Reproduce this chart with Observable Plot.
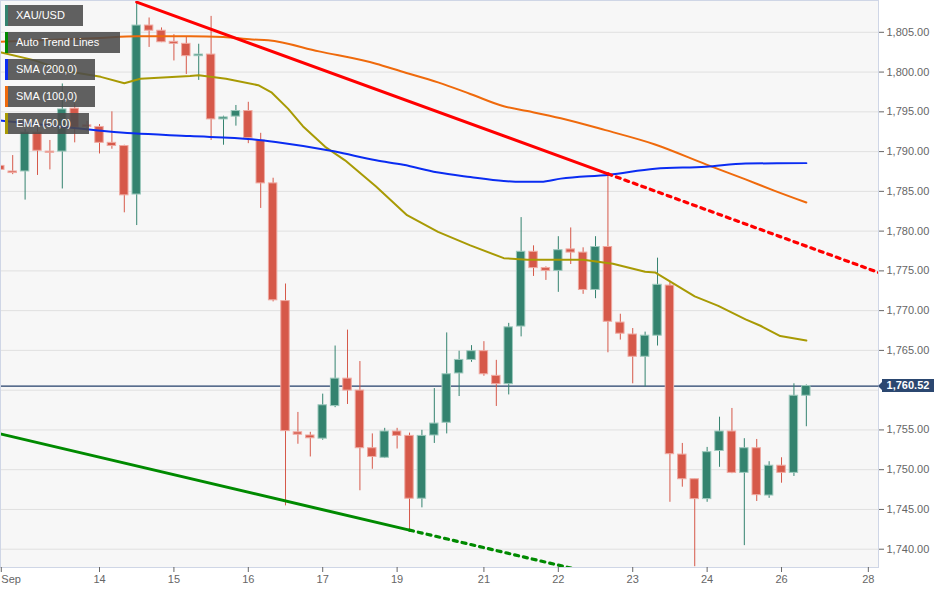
<!DOCTYPE html>
<html><head><meta charset="utf-8">
<script src="https://cdn.jsdelivr.net/npm/d3@7"></script>
<script src="https://cdn.jsdelivr.net/npm/@observablehq/plot@0.6"></script>
<style>
body{margin:0;background:#fff;font-family:"Liberation Sans",Arial,sans-serif;}
#wrap{position:relative;width:949px;height:593px;overflow:hidden;}
.leg{position:absolute;left:5px;height:21px;background:rgba(75,75,75,0.88);color:#fff;font-size:11px;line-height:21px;padding-left:8px;box-sizing:border-box;border-left:3px solid;white-space:nowrap;}
.last{position:absolute;left:882px;width:52px;height:13px;background:#2b4770;color:#fff;font-weight:bold;font-size:11px;line-height:13px;text-align:center;}
.last:before{content:"";position:absolute;left:-4px;top:2.5px;border-top:4px solid transparent;border-bottom:4px solid transparent;border-right:4px solid #2b4770;}
</style></head><body>
<div id="wrap"></div>
<script>
// ---- candle data (4H candles, index 0 = Sep 13 00:00) ----
const candleIdx = d3.range(-2, 64);
const open  = [1788.2,1787.5,1787.5,1792.4,1790.0,1790.0,1795.4,1793.3,1793.1,1791.1,1790.7,1784.6,1805.85,1805.2,1803.8,1803.55,1802.0,1802.2,1794.05,1794.4,1795.1,1791.4,1786.0,1771.2,1754.7,1754.3,1753.9,1758.0,1761.45,1759.95,1752.7,1751.5,1754.8,1754.25,1746.35,1754.3,1755.9,1762.1,1763.8,1764.9,1761.8,1760.75,1768.0,1777.4,1775.35,1775.0,1777.7,1777.3,1772.6,1778.0,1768.5,1767.0,1764.2,1766.85,1773.15,1751.9,1748.8,1746.3,1752.35,1754.8,1749.6,1752.7,1746.75,1750.5,1749.6,1759.3];
const high  = [1788.6,1789.5,1792.8,1793.2,1791.4,1798.5,1796.0,1793.8,1793.4,1795.0,1790.8,1808.9,1806.8,1805.55,1804.7,1804.4,1803.5,1807.0,1794.45,1795.8,1796.2,1792.3,1786.65,1773.35,1757.2,1754.7,1759.5,1765.55,1767.55,1763.6,1754.5,1755.2,1755.2,1754.6,1754.95,1760.2,1767.2,1764.9,1765.6,1766.1,1763.75,1768.4,1781.7,1778.15,1775.5,1779.3,1780.4,1777.9,1779.3,1787.3,1769.55,1767.75,1767.3,1776.6,1773.7,1753.3,1748.8,1752.8,1756.6,1757.7,1753.9,1753.8,1751.0,1751.5,1760.8,1760.65];
const low   = [1787.3,1787.1,1783.9,1787.0,1787.7,1785.3,1791.1,1792.6,1789.7,1790.3,1782.3,1780.7,1803.1,1803.7,1801.4,1799.7,1798.95,1791.4,1790.8,1793.2,1791.0,1782.85,1771.1,1745.45,1753.2,1751.6,1753.7,1757.8,1758.2,1747.35,1750.05,1751.4,1752.6,1742.45,1745.2,1753.3,1754.5,1759.2,1763.5,1761.75,1757.95,1759.4,1766.7,1774.3,1773.8,1772.3,1775.8,1772.05,1771.5,1764.7,1766.3,1760.8,1760.4,1765.55,1745.9,1747.8,1737.8,1745.9,1750.3,1749.5,1740.45,1746.0,1746.4,1748.3,1749.15,1755.4];
const close = [1787.7,1787.3,1792.4,1790.1,1789.85,1795.3,1793.0,1793.1,1791.1,1790.7,1784.5,1805.85,1805.2,1803.75,1803.55,1802.0,1802.2,1794.05,1794.3,1795.1,1791.7,1786.0,1771.3,1754.85,1754.4,1753.95,1758.1,1761.45,1759.95,1752.7,1751.6,1754.8,1754.25,1746.35,1754.25,1755.8,1762.0,1763.8,1764.9,1762.0,1760.75,1767.9,1777.4,1775.35,1775.0,1777.6,1777.3,1772.6,1778.0,1768.6,1767.1,1764.2,1766.85,1773.25,1751.95,1748.8,1746.3,1752.2,1754.8,1749.6,1752.7,1746.8,1750.5,1749.6,1759.3,1760.52];
const lastPrice = 1760.52;

// ---- indicators ----
const sma200Idx = [-2,1,8.7,13.3,18.3,20.2,25,28.3,30.5,33.2,35.9,38.6,40,41.6,43.2,47.1,50.8,54.9,58.1,63];
const sma200Val = [1793.9,1793.45,1792.3,1791.95,1791.55,1791.2,1790.0,1788.9,1788.35,1787.4,1786.8,1786.3,1786.2,1786.2,1786.6,1787.1,1787.85,1788.1,1788.5,1788.55];
const sma100Idx = [-2,6,9,13.3,16,18.3,19.6,23.7,28.3,30.3,33.3,35.9,38.6,40.5,43.2,46.8,50.8,54.9,58.1,60.4,63];
const sma100Val = [1803.8,1804.3,1804.5,1804.5,1804.4,1804.1,1804.0,1802.6,1801.05,1800.1,1798.7,1797.25,1795.7,1795.1,1794.2,1792.7,1790.9,1788.4,1786.5,1785.1,1783.6];
const ema50Idx = [-2,0.7,3.4,6.1,8,9.3,13.3,14,16.2,18.8,19.9,21.2,22.4,24.2,25.8,28.3,30.8,33.3,35.9,38.6,40.5,45,47.4,50,50.8,54,55.9,58.1,59.3,60.9,63];
const ema50Val = [1802.5,1801.5,1800.1,1799.4,1798.6,1799.15,1799.5,1799.6,1799.15,1798.35,1797.4,1795.4,1793.2,1790.6,1788.9,1785.6,1782.0,1779.9,1778.2,1776.6,1776.4,1776.4,1775.9,1774.9,1774.8,1771.8,1770.6,1768.9,1768.1,1766.8,1766.25];

// auto trend lines: anchor points (index, price) and extension end index
const resistIdx = [9, 47],  resistVal = [1808.8, 1787.2];
const supportIdx = [-2, 31], supportVal = [1754.5, 1742.4];
const extendTo = 68.9;

// ---- axes ----
const yTicks = [1740,1745,1750,1755,1760,1765,1770,1775,1780,1785,1790,1795,1800,1805];
const yLabelTicks = [1740,1745,1750,1755,1765,1770,1775,1780,1785,1790,1795,1800,1805]; // 1,760.00 sits under the last-price tag
const xTickIdx = [6,12,18,24,30,37,43,49,55,61,68];
const xTickLabels = ["14","15","16","17","19","21","22","23","24","26","28"];
const firstTickIdx = -1.92, firstTickLabel = "Sep";

const GREEN = "#34836f", RED = "#d6594a";
const candles = candleIdx.map((i,k)=>({i, o:open[k], h:high[k], l:low[k], c:close[k]}));
const up = d => d.c >= d.o;
const pts = (xs, vs) => xs.map((x,k)=>({i:x, v:vs[k]}));
const extend = (xs, vs) => {
  const s = (vs[1]-vs[0])/(xs[1]-xs[0]);
  return [{i:xs[1], v:vs[1]}, {i:extendTo, v:vs[1] + s*(extendTo-xs[1])}];
};

const plot = Plot.plot({
  width: 949, height: 593,
  marginLeft: 0, marginTop: 0, marginRight: 71, marginBottom: 26,
  style: {fontFamily: "'Liberation Sans', Arial, sans-serif", fontSize: "11px", background: "transparent", overflow: "visible"},
  x: {type: "linear", domain: [-1.984, 68.82], axis: null},
  y: {domain: [1737.7, 1809.0], axis: null},
  marks: [
    Plot.frame({fill: "#f7f7f7"}),
    Plot.gridY(yTicks, {stroke: "#e0e0e0", strokeOpacity: 1}),
    Plot.ruleY([lastPrice], {stroke: "#233f6a", strokeWidth: 1.2}),
    Plot.ruleX(candles, {x: "i", y1: "l", y2: "h", stroke: d => up(d) ? GREEN : RED, clip: true}),
    Plot.rect(candles, {x1: d => d.i - 0.34, x2: d => d.i + 0.34, y1: "o", y2: "c",
      fill: d => up(d) ? GREEN : RED, stroke: d => up(d) ? "#9cc8bc" : "#efaaa2", strokeWidth: 1, clip: true}),
    Plot.line(pts(sma100Idx, sma100Val), {x: "i", y: "v", stroke: "#ef6a0c", strokeWidth: 2, curve: "monotone-x", clip: true}),
    Plot.line(pts(ema50Idx, ema50Val), {x: "i", y: "v", stroke: "#a89a04", strokeWidth: 2, clip: true}),
    Plot.line(pts(sma200Idx, sma200Val), {x: "i", y: "v", stroke: "#0a2cf2", strokeWidth: 2, curve: "monotone-x", clip: true}),
    Plot.line(pts(resistIdx, resistVal), {x: "i", y: "v", stroke: "#ff0000", strokeWidth: 3, clip: true}),
    Plot.line(extend(resistIdx, resistVal), {x: "i", y: "v", stroke: "#ff0000", strokeWidth: 3.2, strokeDasharray: "4,5", clip: true}),
    Plot.line(pts(supportIdx, supportVal), {x: "i", y: "v", stroke: "#008a00", strokeWidth: 3, clip: true}),
    Plot.line(extend(supportIdx, supportVal), {x: "i", y: "v", stroke: "#008a00", strokeWidth: 3.2, strokeDasharray: "4,5", clip: true}),
    Plot.frame({stroke: "#cfd6e6"}),
    Plot.axisY({anchor: "right", ticks: yLabelTicks, tickFormat: d3.format(",.2f"), tickSize: 5, tickPadding: 3, color: "#666", fontSize: 11, label: null}),
    Plot.axisX({ticks: xTickIdx, tickFormat: d => xTickLabels[xTickIdx.indexOf(d)], tickSize: 5, tickPadding: 3, color: "#666", fontSize: 11, label: null}),
    Plot.axisX({ticks: [firstTickIdx], tickFormat: () => firstTickLabel, tickSize: 5, tickPadding: 3, textAnchor: "start", color: "#666", fontSize: 11, label: null})
  ]
});
const wrap = document.getElementById("wrap");
wrap.appendChild(plot);

// legend
const legend = [
  {t: "XAU/USD", c: GREEN, w: 78},
  {t: "Auto Trend Lines", c: "#008a00", w: 115},
  {t: "SMA (200,0)", c: "#0a2cf2", w: 90},
  {t: "SMA (100,0)", c: "#ef6a0c", w: 90},
  {t: "EMA (50,0)", c: "#a89a04", w: 84}
];
legend.forEach((l, k) => {
  const d = document.createElement("div");
  d.className = "leg";
  d.style.top = (5 + k*27) + "px";
  d.style.width = l.w + "px";
  d.style.borderLeftColor = l.c;
  d.textContent = l.t;
  wrap.appendChild(d);
});
// last price tag
const ly = plot.scale("y").apply(lastPrice);
const tag = document.createElement("div");
tag.className = "last";
tag.style.top = (ly - 6.5) + "px";
tag.textContent = d3.format(",.2f")(lastPrice);
wrap.appendChild(tag);
</script>
</body></html>
